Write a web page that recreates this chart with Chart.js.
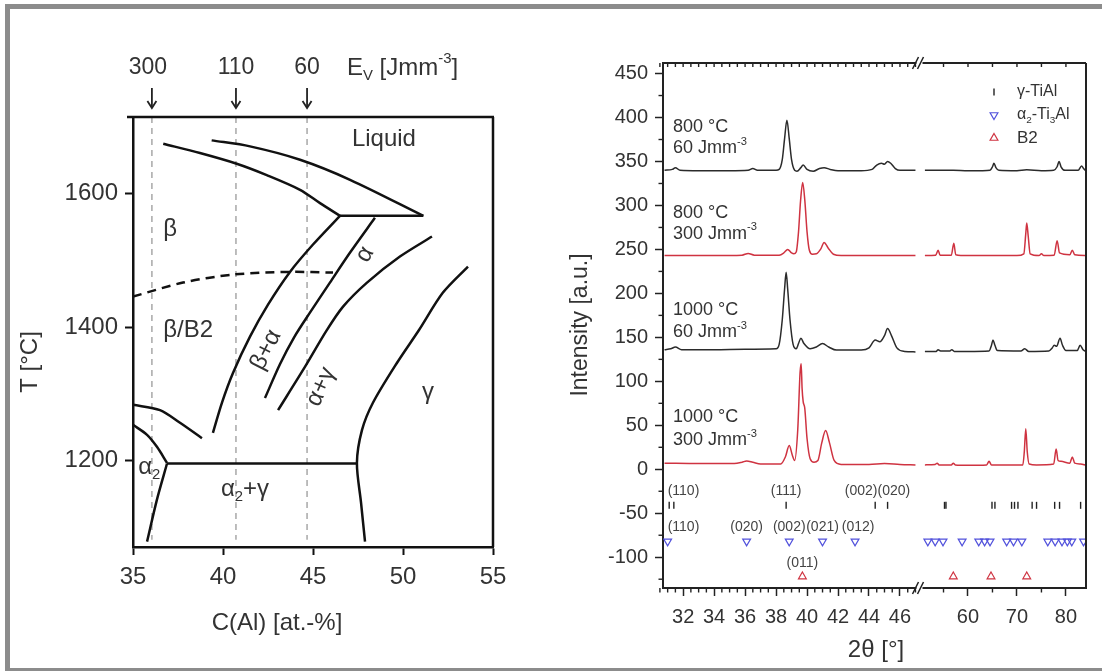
<!DOCTYPE html>
<html><head><meta charset="utf-8">
<script src="https://cdn.jsdelivr.net/npm/chart.js@4.4.1/dist/chart.umd.min.js"></script>
<style>
html,body{margin:0;padding:0;background:#fff;}
body{width:1102px;height:671px;overflow:hidden;position:relative;}
#frame{position:absolute;left:5px;top:4px;width:1200px;height:669px;box-sizing:border-box;border:5px solid #8c8c8c;}
#c1{position:absolute;left:0;top:0;}
#c2{position:absolute;left:560px;top:0;}
</style></head><body>
<div id="frame"></div>
<canvas id="c1" width="560" height="671"></canvas>
<canvas id="c2" width="542" height="671"></canvas>
<script>
// ---------------- LEFT PANEL DATA (C(Al) at.-%, T °C) ----------------
const cTicks = [35, 40, 45, 50, 55];
const tTicks = [1200, 1400, 1600];
const energyLabels = ['300', '110', '60'];
const energyC = [36.05, 40.72, 44.67];
const betaLiquidus = [[36.68,1675],[38.72,1661],[40.76,1645],[42.43,1628],[44.28,1606],[45.39,1586],[46.5,1567]];
const alphaLiquidus = [[39.37,1680],[41.5,1671],[44.28,1651],[47.06,1621],[51.13,1567]];
const peritectic = [[46.5,1567],[51.13,1567]];
const betaSolvus = [[46.5,1567],[45.0,1524],[43.72,1483],[42.5,1434],[41.5,1386],[40.56,1332],[39.94,1287],[39.44,1242]];
const alphaTransus = [[48.44,1564],[47.06,1512],[45.94,1467],[44.83,1422],[43.95,1385],[43.17,1345],[42.33,1294]];
const alphaGammaLine = [[51.61,1536],[49.83,1506],[48.0,1467],[46.67,1431],[45.75,1395],[44.56,1341],[43.06,1276]];
const gammaSolvus = [[53.61,1491],[52.22,1452],[50.89,1396],[49.67,1347],[48.33,1287],[47.72,1246],[47.44,1197],[47.67,1137],[47.89,1079]];
const eutectoid = [[36.89,1196],[47.44,1196]];
const alpha2Upper = [[35,1254],[35.78,1239],[36.33,1221],[36.89,1197]];
const alpha2Lower = [[36.89,1196],[36.33,1142],[35.78,1079]];
const betaAlpha2 = [[35,1284],[36.5,1276],[37.61,1257],[38.83,1234]];
const orderLine = [[35,1446],[37.78,1467],[40.56,1479],[43.72,1483],[46.11,1482]];
const phaseLabels = [['Liquid',48.94,1681,0],['β',37.06,1546,0],['β/B2',38.06,1396,0],['β+α',42.39,1366,-63],
  ['α',47.89,1509,-60],['α+γ',45.44,1311,-66],['γ',51.39,1302,0],['α_{2}',35.9,1191,0],['α_{2}+γ',41.22,1157,0]];

// ---------------- RIGHT PANEL DATA (2θ °, intensity a.u.) ----------------
const xMajor = [32,34,36,38,40,42,44,46,60,70,80];
const xMinor = [30.5,31,31.5,32.5,33,33.5,34.5,35,35.5,36.5,37,37.5,38.5,39,39.5,40.5,41,41.5,42.5,43,43.5,44.5,45,45.5,46.5,47,55,65,75];
const yMajor = [-100,-50,0,50,100,150,200,250,300,350,400,450];
const yMinor = [-125,-75,-25,25,75,125,175,225,275,325,375,425];
const xrd800_60 = [[30.8,340],[31.3,341],[31.5,343],[31.8,340],[33,339.5],[35,339.5],[36.2,340],[36.5,342],[36.8,340],[38.0,340],[38.2,341],[38.4,352],[38.55,376],[38.7,397],[38.85,376],[39.0,352],[39.2,340],[39.35,339],[39.6,343],[39.75,346],[40.0,341],[40.4,339],[40.8,342],[41.1,343],[41.5,341],[42,339.5],[43.5,339.5],[44.2,341],[44.5,346],[44.8,348],[45.0,347],[45.2,350],[45.4,348],[45.7,342],[46.0,340],[47.0,340],
  [51.2,340],[55,340],[57,340],[60,339.5],[63,339.5],[64.5,340],[65.0,344],[65.3,348],[65.7,343],[66.3,340],[70,339.5],[72,340.5],[75,339.5],[77.5,340],[78.2,344],[78.6,350],[79.0,344],[79.8,340],[82.5,340],[83.2,345],[83.6,342],[84.1,339]];
const xrd800_300 = [[30.8,243],[34,243],[35.8,243.5],[36.2,245.5],[36.6,243.5],[38.2,243.5],[38.5,246],[38.75,250],[39.0,246],[39.15,245],[39.3,247],[39.45,270],[39.58,305],[39.72,326],[39.86,305],[40.0,270],[40.15,249],[40.35,244.5],[40.6,245],[40.9,251],[41.1,258],[41.35,252],[41.7,244.5],[42.2,243],[47.0,243],
  [51.2,243],[53.4,243.5],[53.9,249],[54.3,243.5],[56.6,243.5],[57.1,257],[57.5,244],[60,243],[67,243],[70,243],[71.4,245],[71.8,268],[72.0,280],[72.3,265],[72.7,245],[74.5,243],[75.0,245],[75.5,243],[77.6,243.5],[78.2,260],[78.7,246],[80.8,244],[81.3,249],[81.8,244],[84.1,243]];
const xrd1000_60 = [[30.8,136],[31.2,137],[31.5,139],[31.9,136],[34,136],[36,136.5],[38.0,137],[38.2,142],[38.4,170],[38.55,205],[38.65,224],[38.75,205],[38.9,170],[39.1,142],[39.3,137],[39.45,143],[39.6,149],[39.8,143],[40.2,137],[40.6,139],[41.0,143],[41.4,139],[41.9,135.5],[43.5,135.5],[44.0,138],[44.4,147],[44.7,145],[45.0,152],[45.2,160],[45.45,152],[45.8,138],[46.3,134],[47.0,133.5],
  [51.2,134],[53.5,134],[53.9,136],[54.4,134.5],[56.3,134.5],[56.7,136],[57.2,134],[60,134],[64.3,134.5],[64.8,141],[65.1,147],[65.5,141],[66.0,135],[70.8,134.5],[71.6,137],[72.4,134],[76.5,134.5],[77.2,138],[77.6,141],[78.1,140],[78.8,149],[79.3,141],[80.0,135],[82.3,135],[82.9,141],[83.5,136],[84.1,134]];
const xrd1000_300 = [[30.8,7],[33,6.5],[35.3,6.5],[35.8,8],[36.1,9.5],[36.5,8],[37,6],[38.3,6],[38.6,14],[38.85,27],[39.05,16],[39.2,10],[39.4,45],[39.55,110],[39.62,120],[39.68,92],[39.75,77],[39.85,70],[40.0,35],[40.2,12],[40.45,8],[40.7,10],[40.95,30],[41.2,44],[41.45,30],[41.75,10],[42.2,5.5],[44,5.5],[45,6.5],[46,5.5],[47,5],
  [51.2,5],[53.3,5.5],[53.7,7],[54.1,5],[56.6,5],[57.0,7],[57.4,5],[60,4.5],[63.8,5],[64.3,9],[64.8,5],[71.2,5],[71.5,20],[71.8,46],[72.1,20],[72.5,6],[74,5],[77.5,6],[78.0,23],[78.4,10],[79,9],[80.8,7],[81.3,14],[81.8,7],[83,6],[84.1,4.5]];
const gammaTiAl = [31.1,31.4,38.65,44.4,45.2,55.2,55.5,64.9,65.5,68.9,69.5,70.2,73.1,74.0,77.7,78.7,83.0];
const alpha2Ti3Al = [31.0,36.1,38.85,41.0,43.1,51.8,53.3,54.9,58.8,62.2,63.4,64.5,67.9,69.3,71.0,76.3,77.8,79.2,80.3,81.2,83.6];
const b2Phase = [39.7,57.0,64.7,72.0];
const gammaLevel = -41, alpha2Level = -82, b2Level = -122;
const gammaHkl = [['(110)',31.0,'left'],['(111)',38.65,'center'],['(002)(020)',44.55,'center']];
const alpha2Hkl = [['(110)',31.0,'left'],['(020)',36.1,'center'],['(002)',38.85,'center'],['(021)',41.0,'center'],['(012)',43.3,'center']];
const b2Hkl = [['(011)',39.7,'center']];
const sampleLabels = [['800 °C',389],['60 Jmm^{-3}',365],['800 °C',291],['300 Jmm^{-3}',268],['1000 °C',181],['60 Jmm^{-3}',156],['1000 °C',59],['300 Jmm^{-3}',33]];

// ---------------- helpers ----------------
const FONT = '"Liberation Sans", Arial, Helvetica, sans-serif';
const TXT = '#333';
Chart.defaults.font.family = FONT;
Chart.defaults.color = TXT;

function richText(ctx, str, x, y, o) {
  const size = o.size, parts = [];
  const re = /(_\{[^}]*\}|\^\{[^}]*\})/g; let last = 0, m;
  while ((m = re.exec(str))) {
    if (m.index > last) parts.push({t: str.slice(last, m.index), k: 0});
    parts.push({t: m[0].slice(2, -1), k: m[0][0] === '_' ? 1 : 2});
    last = re.lastIndex;
  }
  if (last < str.length) parts.push({t: str.slice(last), k: 0});
  ctx.save();
  ctx.translate(x, y);
  if (o.rot) ctx.rotate(o.rot * Math.PI / 180);
  ctx.fillStyle = o.color || TXT;
  ctx.textBaseline = 'middle'; ctx.textAlign = 'left';
  let w = 0;
  for (const p of parts) { p.s = p.k ? size * 0.62 : size; ctx.font = p.s + 'px ' + FONT; p.w = ctx.measureText(p.t).width; w += p.w; }
  let cx = o.align === 'left' ? 0 : (o.align === 'right' ? -w : -w / 2);
  for (const p of parts) {
    ctx.font = p.s + 'px ' + FONT;
    const dy = p.k === 1 ? size * 0.32 : (p.k === 2 ? -size * 0.36 : 0);
    ctx.fillText(p.t, cx, dy); cx += p.w;
  }
  ctx.restore();
}
function line(ctx, x1, y1, x2, y2) { ctx.beginPath(); ctx.moveTo(x1, y1); ctx.lineTo(x2, y2); ctx.stroke(); }
function tri(ctx, x, y, r, down) {
  const s = down ? -1 : 1;
  ctx.beginPath(); ctx.moveTo(x, y - s * r); ctx.lineTo(x + 0.866 * r, y + s * 0.5 * r); ctx.lineTo(x - 0.866 * r, y + s * 0.5 * r); ctx.closePath(); ctx.stroke();
}

// ---------------- LEFT CHART ----------------
const pts = a => a.map(p => ({x: p[0], y: p[1]}));
const phaseStyle = {showLine: true, borderColor: '#111', borderWidth: 2.5, pointRadius: 0, tension: 0.3, fill: false};
const leftDatasets = [betaLiquidus, alphaLiquidus, peritectic, betaSolvus, alphaTransus, alphaGammaLine, gammaSolvus,
  eutectoid, alpha2Upper, alpha2Lower, betaAlpha2].map(a => Object.assign({data: pts(a)}, phaseStyle));
leftDatasets.push(Object.assign({data: pts(orderLine), borderDash: [9, 6]}, phaseStyle));
energyC.forEach(c => leftDatasets.push({data: [{x: c, y: 1715}, {x: c, y: 1082}], showLine: true, borderColor: '#a8a8a8', borderWidth: 1.5, borderDash: [6, 5], pointRadius: 0}));

const leftDecor = {
  id: 'leftDecor',
  afterDraw(chart) {
    const ctx = chart.ctx, a = chart.chartArea, xs = chart.scales.x, ys = chart.scales.y;
    ctx.save();
    ctx.strokeStyle = '#111'; ctx.lineWidth = 2.5;
    line(ctx, a.left - 6, a.top, a.right + 1, a.top);
    line(ctx, a.right, a.top, a.right, a.bottom);
    // energy arrows
    ctx.strokeStyle = '#222'; ctx.lineWidth = 1.8;
    energyC.forEach((c, i) => {
      const px = xs.getPixelForValue(c);
      line(ctx, px, a.top - 29, px, a.top - 9);
      ctx.beginPath(); ctx.moveTo(px - 4.5, a.top - 16); ctx.lineTo(px, a.top - 9); ctx.lineTo(px + 4.5, a.top - 16); ctx.stroke();
      richText(ctx, energyLabels[i], px - (i === 0 ? 4 : 0), a.top - 49, {size: 23, align: 'center'});
    });
    richText(ctx, 'E_{V} [Jmm^{-3}]', 347, a.top - 49, {size: 24, align: 'left'});
    phaseLabels.forEach(l => richText(ctx, l[0], xs.getPixelForValue(l[1]), ys.getPixelForValue(l[2]), {size: 24, align: 'center', rot: l[3]}));
    richText(ctx, 'C(Al) [at.-%]', 277, 623, {size: 24, align: 'center'});
    richText(ctx, 'T [°C]', 30, 362, {size: 24, align: 'center', rot: -90});
    ctx.restore();
  }
};

new Chart(document.getElementById('c1'), {
  type: 'scatter',
  data: {datasets: leftDatasets},
  options: {
    responsive: false, animation: false, events: [],
    layout: {padding: {left: 0, top: 117, right: 67, bottom: 0}},
    plugins: {legend: {display: false}, tooltip: {enabled: false}},
    scales: {
      x: {type: 'linear', min: 35, max: 55,
        afterBuildTicks: s => { s.ticks = cTicks.map(v => ({value: v})); },
        afterFit: s => { s.height = 124; },
        ticks: {callback: v => String(v), font: {size: 24}, color: TXT, padding: 8, autoSkip: false, maxRotation: 0},
        grid: {drawOnChartArea: false, tickLength: 8, tickColor: '#111', tickWidth: 2},
        border: {color: '#111', width: 2.5}},
      y: {type: 'linear', min: 1071, max: 1715,
        afterBuildTicks: s => { s.ticks = tTicks.map(v => ({value: v})); },
        afterFit: s => { s.width = 133; },
        ticks: {callback: v => String(v), font: {size: 24}, color: TXT, padding: 7, autoSkip: false},
        grid: {drawOnChartArea: false, tickLength: 8, tickColor: '#111', tickWidth: 2},
        border: {color: '#111', width: 2.5}}
    }
  },
  plugins: [leftDecor]
});

// ---------------- RIGHT CHART (broken 2θ axis) ----------------
const X_MIN = 30.7, BREAK_LO = 47.1, BREAK_HI = 50.6, X_MAX = 84.1, GAP = 0.32, RIGHT_FACTOR = 4.9 / 15.5;
function u(t) { return t <= BREAK_LO + 1e-6 ? t : BREAK_LO + GAP + (t - BREAK_HI) * RIGHT_FACTOR; }
function xrdPoints(pairs) {
  const out = []; let prev = null;
  for (const [t, i] of pairs) {
    if (prev !== null && prev <= BREAK_LO && t >= BREAK_HI) out.push({x: BREAK_LO + GAP / 2, y: null});
    out.push({x: u(t), y: i}); prev = t;
  }
  return out;
}
const BLACK = '#2b2b2b', RED = '#cf3341', BLUE = '#5252dc';
const curve = (d, c) => ({data: xrdPoints(d), showLine: true, borderColor: c, borderWidth: 1.5, pointRadius: 0, cubicInterpolationMode: 'monotone', spanGaps: false});
const rightDatasets = [
  curve(xrd800_60, BLACK), curve(xrd800_300, RED), curve(xrd1000_60, BLACK), curve(xrd1000_300, RED),
  {data: gammaTiAl.map(t => ({x: u(t), y: gammaLevel})), pointStyle: 'line', rotation: 90, pointRadius: 3.5, borderColor: '#222', borderWidth: 1.4},
  {data: alpha2Ti3Al.map(t => ({x: u(t), y: alpha2Level})), pointStyle: 'triangle', rotation: 180, pointRadius: 4.5, borderColor: BLUE, backgroundColor: 'rgba(255,255,255,0)', borderWidth: 1.2},
  {data: b2Phase.map(t => ({x: u(t), y: b2Level})), pointStyle: 'triangle', rotation: 0, pointRadius: 4.5, borderColor: RED, backgroundColor: 'rgba(255,255,255,0)', borderWidth: 1.2}
];

const rightDecor = {
  id: 'rightDecor',
  afterDraw(chart) {
    const ctx = chart.ctx, a = chart.chartArea, xs = chart.scales.x, ys = chart.scales.y;
    ctx.save();
    ctx.strokeStyle = '#222'; ctx.lineWidth = 1.4;
    xMinor.forEach(t => { const px = xs.getPixelForValue(u(t)); line(ctx, px, a.bottom, px, a.bottom + 4.5); });
    xMajor.concat(xMinor).forEach(t => { const px = xs.getPixelForValue(u(t)); line(ctx, px, a.top, px, a.top + 4); });
    yMinor.forEach(v => { const py = ys.getPixelForValue(v); line(ctx, a.left, py, a.left - 4.5, py); });
    ctx.lineWidth = 2;
    line(ctx, a.left, a.top, a.right, a.top);
    line(ctx, a.right, a.top, a.right, a.bottom + 1);
    // axis break marks
    const bx = (xs.getPixelForValue(BREAK_LO) + xs.getPixelForValue(BREAK_LO + GAP)) / 2;
    [a.top, a.bottom].forEach(y => {
      ctx.fillStyle = '#fff'; ctx.fillRect(bx - 3, y - 2, 6, 4);
      ctx.lineWidth = 1.5; ctx.strokeStyle = '#222';
      line(ctx, bx - 7, y + 6, bx - 1, y - 6);
      line(ctx, bx - 2, y + 6, bx + 4, y - 6);
    });
    // sample labels
    sampleLabels.forEach(l => richText(ctx, l[0], xs.getPixelForValue(u(31.35)), ys.getPixelForValue(l[1]), {size: 18, align: 'left'}));
    // hkl labels
    gammaHkl.forEach(l => richText(ctx, l[0], xs.getPixelForValue(u(l[1])), ys.getPixelForValue(-25), {size: 14, align: l[2], color: '#444'}));
    alpha2Hkl.forEach(l => richText(ctx, l[0], xs.getPixelForValue(u(l[1])), ys.getPixelForValue(-66), {size: 14, align: l[2], color: '#444'}));
    b2Hkl.forEach(l => richText(ctx, l[0], xs.getPixelForValue(u(l[1])), ys.getPixelForValue(-107), {size: 14, align: l[2], color: '#444'}));
    // legend
    const lx = 434;
    ctx.strokeStyle = '#222'; ctx.lineWidth = 1.4; line(ctx, lx, 88.5, lx, 95.5);
    ctx.strokeStyle = BLUE; ctx.lineWidth = 1.2; tri(ctx, lx, 115, 4.5, true);
    ctx.strokeStyle = RED; tri(ctx, lx, 138, 4.5, false);
    richText(ctx, 'γ-TiAl', 457, 92, {size: 16, align: 'left'});
    richText(ctx, 'α_{2}-Ti_{3}Al', 457, 115, {size: 16, align: 'left'});
    richText(ctx, 'B2', 457, 138, {size: 17, align: 'left'});
    // axis titles
    richText(ctx, 'Intensity [a.u.]', 21, 325, {size: 23, align: 'center', rot: -90});
    richText(ctx, '2θ [°]', 316, 650, {size: 24, align: 'center'});
    ctx.restore();
  }
};

new Chart(document.getElementById('c2'), {
  type: 'scatter',
  data: {datasets: rightDatasets},
  options: {
    responsive: false, animation: false, events: [],
    layout: {padding: {left: 0, top: 63, right: 16, bottom: 0}},
    plugins: {legend: {display: false}, tooltip: {enabled: false}},
    scales: {
      x: {type: 'linear', min: u(X_MIN), max: u(X_MAX),
        afterBuildTicks: s => { s.ticks = xMajor.map(t => ({value: u(t)})); },
        afterFit: s => { s.height = 83; },
        ticks: {callback: (v, i) => String(xMajor[i]), font: {size: 20}, color: TXT, padding: 9, autoSkip: false, maxRotation: 0},
        grid: {drawOnChartArea: false, tickLength: 8, tickColor: '#222', tickWidth: 1.5},
        border: {color: '#222', width: 2}},
      y: {type: 'linear', min: -135, max: 462,
        afterBuildTicks: s => { s.ticks = yMajor.map(v => ({value: v})); },
        afterFit: s => { s.width = 103; },
        ticks: {callback: v => String(v), font: {size: 20}, color: TXT, padding: 7, autoSkip: false},
        grid: {drawOnChartArea: false, tickLength: 8, tickColor: '#222', tickWidth: 1.5},
        border: {color: '#222', width: 2}}
    }
  },
  plugins: [rightDecor]
});
</script>
</body></html>
